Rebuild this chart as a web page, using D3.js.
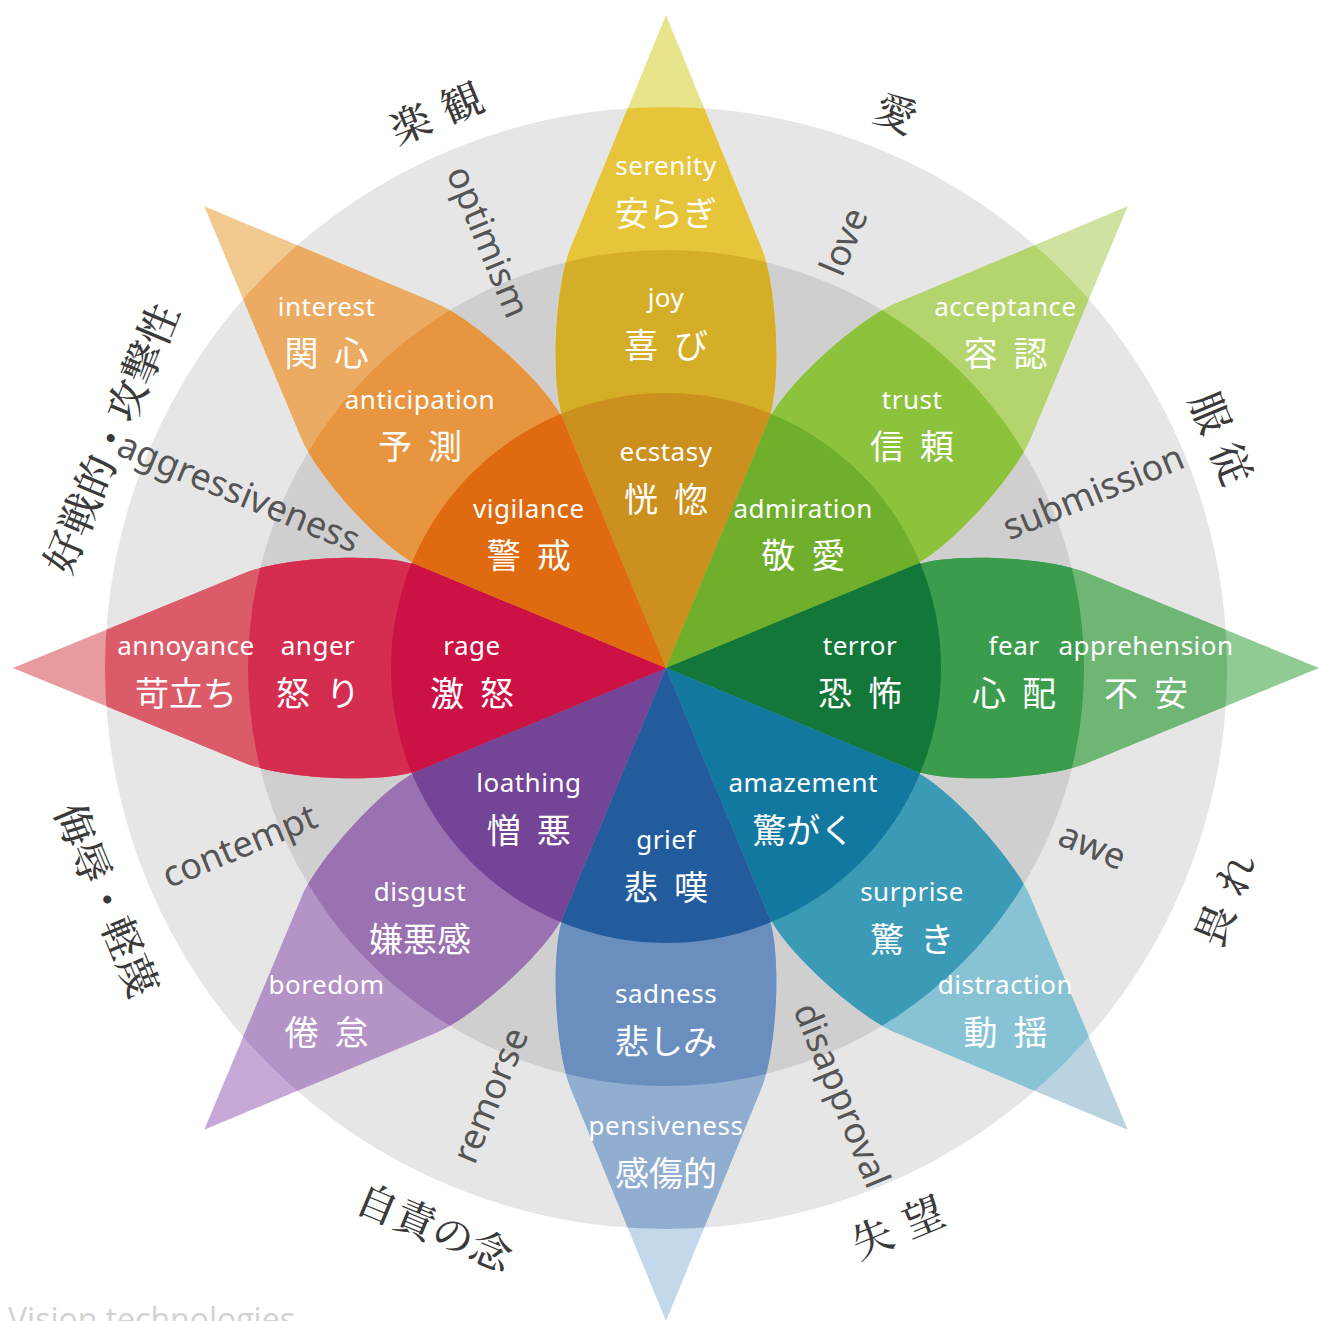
<!DOCTYPE html>
<html>
<head>
<meta charset="utf-8">
<script src="https://cdn.jsdelivr.net/npm/d3@7"></script>
<style>
    html, body { margin: 0; padding: 0; background: #fff; }
    svg { display: block; }
</style>
</head>
<body>
<svg id="chart" width="1319" height="1321"></svg>
<script>
// 8 petals, clockwise from the top
const basicEn = ['joy', 'trust', 'fear', 'surprise', 'sadness', 'disgust', 'anger', 'anticipation']
const basicJa = ['喜び', '信頼', '心配', '驚き', '悲しみ', '嫌悪感', '怒り', '予測']
const strongEn = ['ecstasy', 'admiration', 'terror', 'amazement', 'grief', 'loathing', 'rage', 'vigilance']
const strongJa = ['恍惚', '敬愛', '恐怖', '驚がく', '悲嘆', '憎悪', '激怒', '警戒']
const mildEn = ['serenity', 'acceptance', 'apprehension', 'distraction', 'pensiveness', 'boredom', 'annoyance', 'interest']
const mildJa = ['安らぎ', '容認', '不安', '動揺', '感傷的', '倦怠', '苛立ち', '関心']
// dyads, sitting between petal i and petal i+1
const dyadEn = ['love', 'submission', 'awe', 'disapproval', 'remorse', 'contempt', 'aggressiveness', 'optimism']
const dyadJa = ['愛', '服従', '畏れ', '失望', '自責の念', '侮辱・軽蔑', '好戦的・攻撃性', '楽観']

// colours, one per petal
const strongColors = ['#cc901f', '#6faf2b', '#13773a', '#12789f', '#235c9d', '#744496', '#cc1245', '#df6a10']
const basicColors = ['#d5ae27', '#8dc23c', '#3a9c4c', '#3b9ab6', '#6a8fbf', '#9a72b1', '#d42d4f', '#e8953f']
const mildColors = ['#e6c53b', '#b4d56e', '#6fb675', '#87c2d5', '#91adcf', '#b493c6', '#dc5b68', '#ebab62']
const tipColors = ['#e8e48c', '#cfe2a0', '#91cb94', '#b9d4e0', '#c3d8ea', '#c8a8d6', '#e89b9f', '#f2ca90']

// layout
const cx = 666, cy = 668
const R = { inner: 275, mid: 418, ring: 561, tip: 653 }
const labelR = { inner: 194, mid: 348, outer: 480, dyadEn: 462, dyadJa: 603 }
const enFont = '"Noto Sans", "DejaVu Sans", sans-serif'
const jaFont = '"Noto Sans CJK JP", "Noto Sans CJK SC", sans-serif'

const svg = d3.select('#chart')
const root = svg.append('g').attr('transform', `translate(${cx},${cy})`)

// angle scale (d3 arc convention: 0 = up, clockwise)
const slice = d3.scaleLinear().domain([0, 8]).range([0, 2 * Math.PI])
const deg = (a) => (a * 180) / Math.PI
const polar = (r, a) => [r * Math.sin(a), -r * Math.cos(a)]

// clip circles
const defs = svg.append('defs')
defs.append('clipPath').attr('id', 'clipRing').append('circle').attr('r', R.ring)
defs.append('clipPath').attr('id', 'clipMid').append('circle').attr('r', R.mid)

// background discs
root.append('circle').attr('r', R.ring).attr('fill', '#e6e6e6')
root.append('circle').attr('r', R.mid).attr('fill', '#cfcfcf')

// petal outline, pointing along +x
function petalPath() {
    const half = Math.PI / 8
    const a1 = 245, w1 = a1 * Math.tan(half)
    const a2 = 420, w2 = 0.41 * (R.tip - a2)
    const k = 40
    const len = Math.hypot(R.tip - a2, w2)
    const c1 = [a1 + k * Math.cos(half), w1 + k * Math.sin(half)]
    const c2 = [a2 - (k * (R.tip - a2)) / len, w2 + (k * w2) / len]
    const p = d3.path()
    p.moveTo(0, 0)
    p.lineTo(a1, -w1)
    p.bezierCurveTo(c1[0], -c1[1], c2[0], -c2[1], a2, -w2)
    p.lineTo(R.tip, 0)
    p.lineTo(a2, w2)
    p.bezierCurveTo(c2[0], c2[1], c1[0], c1[1], a1, w1)
    p.closePath()
    return p.toString()
}
const petalD = petalPath()
const idx = d3.range(8)

const petals = root.selectAll('g.petal').data(idx).enter()
    .append('g')
    .attr('class', 'petal')

// tip (outside the grey ring)
petals.append('path')
    .attr('d', petalD)
    .attr('transform', (i) => `rotate(${deg(slice(i)) - 90})`)
    .attr('fill', (i) => tipColors[i])
// mild band
petals.append('path')
    .attr('d', petalD)
    .attr('transform', (i) => `rotate(${deg(slice(i)) - 90})`)
    .attr('clip-path', 'url(#clipRing)')
    .attr('fill', (i) => mildColors[i])
// basic band
petals.append('path')
    .attr('d', petalD)
    .attr('transform', (i) => `rotate(${deg(slice(i)) - 90})`)
    .attr('clip-path', 'url(#clipMid)')
    .attr('fill', (i) => basicColors[i])

// strong emotions, pie slices in the middle
const wedge = d3.arc()
    .innerRadius(0)
    .outerRadius(R.inner)
    .startAngle((i) => slice(i) - Math.PI / 8)
    .endAngle((i) => slice(i) + Math.PI / 8)
root.selectAll('path.wedge').data(idx).enter()
    .append('path')
    .attr('class', 'wedge')
    .attr('d', wedge)
    .attr('fill', (i) => strongColors[i])

// two line label: english above, japanese below
function drawLabel(r, en, ja) {
    const g = root.append('g')
        .selectAll('g').data(idx).enter()
        .append('g')
        .attr('transform', (i) => `translate(${polar(r, slice(i))})`)
    g.append('text')
        .attr('y', -23)
        .attr('text-anchor', 'middle')
        .attr('dominant-baseline', 'central')
        .attr('font-family', enFont)
        .attr('font-size', 26)
        .attr('letter-spacing', 0.5)
        .attr('fill', '#fff')
        .text((i) => en[i])
    g.append('text')
        .attr('y', 23)
        .attr('x', (i) => (ja[i].length === 2 ? 8 : 0))
        .attr('text-anchor', 'middle')
        .attr('dominant-baseline', 'central')
        .attr('font-family', jaFont)
        .attr('font-size', 34)
        .attr('letter-spacing', (i) => (ja[i].length === 2 ? 16 : 0))
        .attr('fill', '#fff')
        .text((i) => ja[i])
}
drawLabel(labelR.inner, strongEn, strongJa)
drawLabel(labelR.mid, basicEn, basicJa)
drawLabel(labelR.outer, mildEn, mildJa)

// dyads
const dyadAngle = (i) => slice(i + 0.5)
root.selectAll('text.dyadEn').data(idx).enter()
    .append('text')
    .attr('class', 'dyadEn')
    .attr('transform', (i) => {
        const a = dyadAngle(i)
        const t = deg(a) - 90 // standard angle of the ray
        const rot = Math.cos((t * Math.PI) / 180) >= 0 ? t : t + 180
        return `translate(${polar(labelR.dyadEn, a)}) rotate(${rot})`
    })
    .attr('text-anchor', 'middle')
    .attr('dominant-baseline', 'central')
    .attr('font-family', enFont)
    .attr('font-size', 36)
    .attr('fill', '#555')
    .text((i) => dyadEn[i])

root.selectAll('text.dyadJa').data(idx).enter()
    .append('text')
    .attr('class', 'dyadJa')
    .attr('transform', (i) => {
        const a = dyadAngle(i)
        const t = deg(a) - 90
        const rot = Math.sin((t * Math.PI) / 180) < 0 ? t + 90 : t - 90
        return `translate(${polar(labelR.dyadJa, a)}) rotate(${rot})`
    })
    .attr('x', (i) => (dyadJa[i].length === 2 ? 7 : 0))
    .attr('text-anchor', 'middle')
    .attr('dominant-baseline', 'central')
    .attr('font-family', '"Noto Serif CJK JP", ' + jaFont)
    .attr('font-size', 41)
    .attr('font-weight', 500)
    .attr('letter-spacing', (i) => (dyadJa[i].length === 2 ? 14 : 0))
    .attr('fill', '#3a3a3a')
    .text((i) => dyadJa[i])

// watermark, cut by the bottom edge as in the source image
svg.append('text')
    .attr('x', 8)
    .attr('y', 1331)
    .attr('font-family', '"Open Sans", sans-serif')
    .attr('font-size', 32)
    .attr('fill', '#d2d2d2')
    .text('Vision technologies')
</script>
</body>
</html>
